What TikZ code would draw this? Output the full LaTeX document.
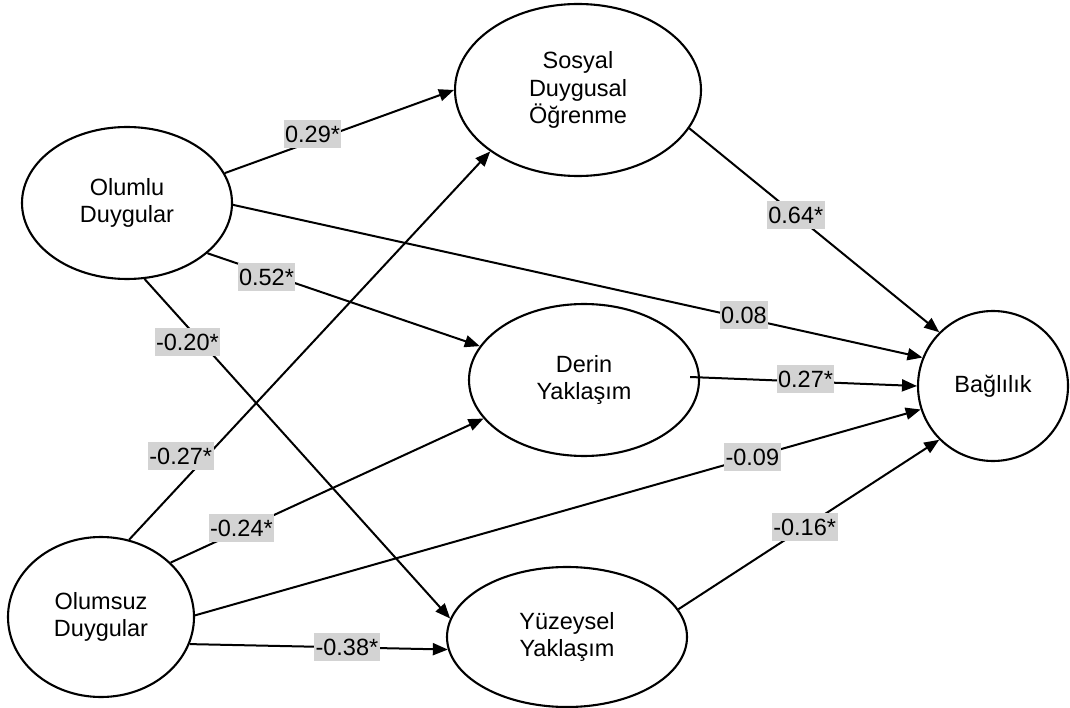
\documentclass[tikz,border=0pt]{standalone}
\usepackage{fontspec}
\setmainfont{Liberation Sans}
\usetikzlibrary{shapes.geometric,arrows.meta,calc}
\definecolor{labelgray}{RGB}{211,211,211}
\tikzset{
  construct/.style={ellipse, draw, line width=2.1pt, inner sep=0pt, align=center,
    font=\fontsize{23.5}{27.7}\selectfont},
  path/.style={line width=2pt, -{Triangle[length=15pt,width=12pt]}},
  coef/.style={fill=labelgray, inner xsep=1.5pt, inner ysep=0pt, text height=17pt,
    text depth=0pt, minimum height=28pt, font=\fontsize{23.5}{28}\selectfont}
}
\begin{document}
\begin{tikzpicture}[x=1pt,y=-1pt]
\useasboundingbox (0,0) rectangle (1070,708);

% latent constructs
\node[construct, minimum width=210pt, minimum height=152pt] (ol) at (127,203) {Olumlu\\Duygular};
\node[construct, minimum width=186pt, minimum height=160pt] (os) at (101,617) {Olumsuz\\Duygular};
\node[construct, minimum width=246pt, minimum height=172pt] (sdo) at (578,90) {Sosyal\\Duygusal\\Öğrenme};
\node[construct, minimum width=230pt, minimum height=152pt] (dy) at (584,380) {Derin\\Yaklaşım};
\node[construct, minimum width=240pt, minimum height=140pt] (yy) at (567,637) {Yüzeysel\\Yaklaşım};
\node[construct, minimum width=150pt, minimum height=150pt] (bg) at (993,386) {Bağlılık};

% paths from positive emotions
\draw[path] (ol.17) -- (sdo.180) node[coef, pos=0.383, yshift=7pt] {0.29*};
\draw[path] (ol.-1) -- (bg.158) node[coef, pos=0.741, yshift=3pt] {0.08};
\draw[path] (ol.-32) -- (dy.162) node[coef, pos=0.217, yshift=-4pt] {0.52*};
\draw[path] (ol.-77) -- (yy.171) node[coef, pos=0.186, xshift=-14pt] {-0.20*};

% paths from negative emotions
\draw[path] (os.70) -- (sdo.215) node[coef, pos=0.215, xshift=-26pt] {-0.27*};
\draw[path] (os.38) -- (dy.201) node[coef, pos=0.226, yshift=2pt] {-0.24*};
\draw[path] (os.1) -- (bg.198) node[coef, pos=0.768] {-0.09};
\draw[path] (os.-17) -- (yy.186) node[coef, pos=0.609] {-0.38*};

% paths into engagement
\draw[path] (sdo.-19) -- (bg.135) node[coef, pos=0.426] {0.64*};
\draw[path] ($(dy.east)+(-10,-3)$) -- (bg.180) node[coef, pos=0.509, yshift=3pt] {0.27*};
\draw[path] (yy.14) -- (bg.225) node[coef, pos=0.484] {-0.16*};
\end{tikzpicture}
\end{document}
